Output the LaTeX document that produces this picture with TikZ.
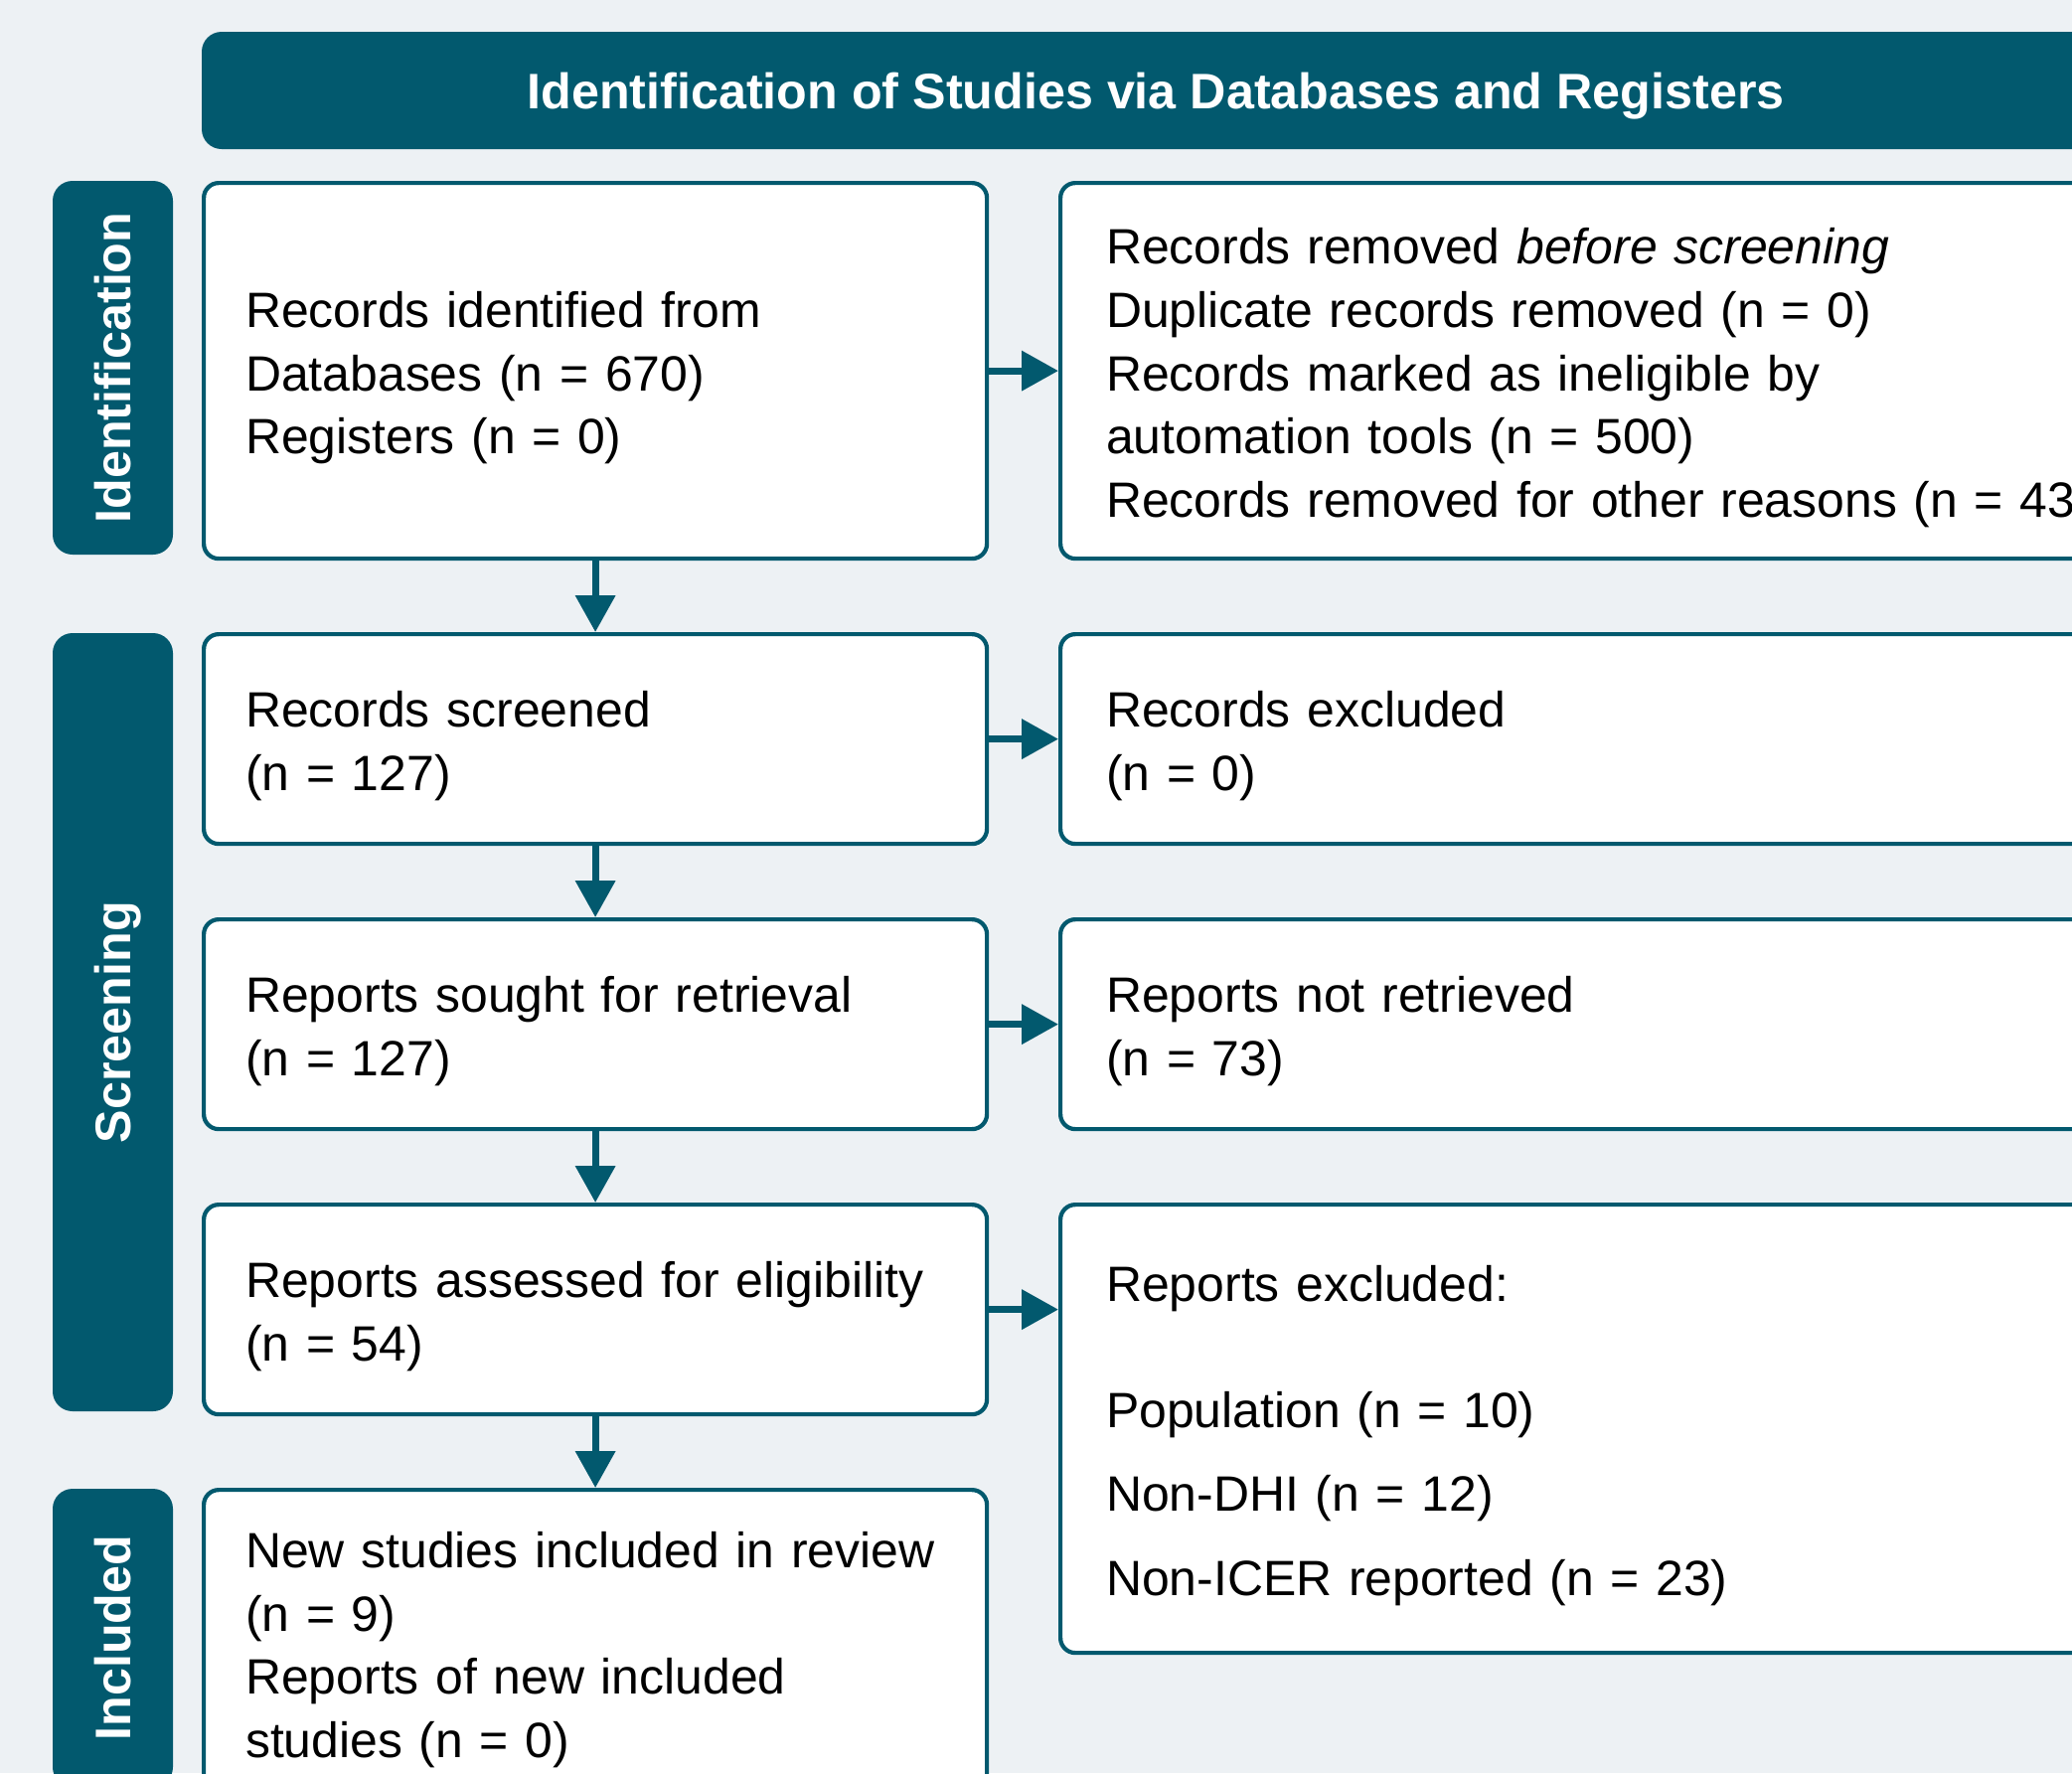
\documentclass[tikz,border=0pt]{standalone}
\usepackage{fontspec}
\setmainfont{Liberation Sans}
\usetikzlibrary{arrows.meta,positioning}

\definecolor{prismateal}{RGB}{2,89,110}
\definecolor{pagebg}{RGB}{237,241,244}
\newcommand{\boxfont}{\fontsize{14.2}{18.1}\selectfont\hyphenpenalty=10000\relax}

\tikzset{
  box/.style={draw=prismateal, line width=1.2pt, fill=white, rounded corners=0.15cm,
    anchor=north west, align=left, inner ysep=0pt, font=\boxfont,
    execute at begin node={\rule{0pt}{14.3pt}}},
  leftbox/.style={box, inner xsep=0.42cm, text width=7.04cm},
  rightbox/.style={box, inner xsep=0.46cm, text width=10.6cm},
  band/.style={fill=prismateal, rounded corners=0.2cm, text=white, inner sep=0pt,
    text depth=0pt, font=\bfseries\fontsize{14.3}{17}\selectfont},
  flow/.style={draw=prismateal, line width=2pt, -{Triangle[length=0.37cm,width=0.39cm]}},
}

\begin{document}
\begin{tikzpicture}
    % the page
    \useasboundingbox (0,0) rectangle (20.85,-17.84);
    \fill[pagebg] (0,0) rectangle (20.85,-17.84);
    \clip (0,0) rectangle (20.85,-17.84);

    % the title bar
    \node[band, minimum width=19.2cm, minimum height=1.18cm] (title) at (11.63,-0.91)
        {Identification of Studies via Databases and Registers};

    % the stage bars on the left
    \node[band, rotate=90, minimum width=3.76cm, minimum height=1.21cm] (ident) at (1.135,-3.70) {Identification};
    \node[band, rotate=90, minimum width=7.83cm, minimum height=1.21cm] (screen) at (1.135,-10.285) {Screening};
    \node[band, rotate=90, minimum width=3.00cm, minimum height=1.21cm] (incl) at (1.135,-16.48) {Included};

    % the main column
    \node[leftbox, minimum height=3.78cm] (records) at (2.03,-1.82)
        {Records identified from\\Databases (n = 670)\\Registers (n = 0)};
    \node[leftbox, minimum height=2.11cm] (screened) at (2.03,-6.36)
        {Records screened\\(n = 127)};
    \node[leftbox, minimum height=2.11cm] (sought) at (2.03,-9.23)
        {Reports sought for retrieval\\(n = 127)};
    \node[leftbox, minimum height=2.11cm] (assessed) at (2.03,-12.10)
        {Reports assessed for eligibility\\(n = 54)};
    \node[leftbox, minimum height=3.08cm] (included) at (2.03,-14.97)
        {New studies included in review\\(n = 9)\\Reports of new included\\studies (n = 0)};

    % the removed and excluded records
    \node[rightbox, minimum height=3.78cm] (removed) at (10.65,-1.82)
        {Records removed \textit{before screening}\\Duplicate records removed (n = 0)\\Records marked as ineligible by\\automation tools (n = 500)\\Records removed for other reasons (n = 43)};
    \node[rightbox, minimum height=2.11cm] (excluded) at (10.65,-6.36)
        {Records excluded\\(n = 0)};
    \node[rightbox, minimum height=2.11cm] (notretrieved) at (10.65,-9.23)
        {Reports not retrieved\\(n = 73)};
    \node[rightbox, minimum height=4.51cm] (rptexcluded) at (10.65,-12.10)
        {Reports excluded:\\[17.9pt]Population (n = 10)\\[6pt]Non-DHI (n = 12)\\[6pt]Non-ICER reported (n = 23)};

    % draw the arrows
    \draw[flow] (records) -- (screened);
    \draw[flow] (screened) -- (sought);
    \draw[flow] (sought) -- (assessed);
    \draw[flow] (assessed) -- (included);
    \draw[flow] (records) -- (removed);
    \draw[flow] (screened) -- (excluded);
    \draw[flow] (sought) -- (notretrieved);
    \draw[flow] (assessed) -- (assessed -| rptexcluded.west);

\end{tikzpicture}
\end{document}
